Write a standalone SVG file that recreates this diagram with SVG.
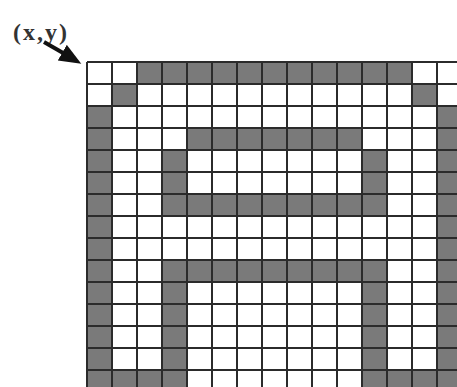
<svg xmlns="http://www.w3.org/2000/svg" width="457" height="387" viewBox="0 0 457 387">
  <style>
    .g { fill: #7a7a7a; }
    .grid { fill: none; stroke: #2b2b2b; stroke-width: 2; }
    .lbl { font-family: "Liberation Serif", "Times New Roman", serif; font-weight: bold; font-size: 24px; fill: #333; }
    .arrow { stroke: #111; stroke-width: 4; fill: none; }
  </style>
  <defs>
    <marker id="head" markerUnits="userSpaceOnUse" markerWidth="24" markerHeight="20" refX="2" refY="9" orient="auto">
      <polygon points="0,0 22,9 0,18" fill="#111"/>
    </marker>
  </defs>
  <rect width="457" height="387" fill="#fff"/>

  <g id="grid">
    <rect x="87" y="62" width="370" height="325" fill="#fff"/>
    <rect class="g" x="137" y="62" width="275" height="22"/>
    <rect class="g" x="112" y="84" width="25" height="22"/>
    <rect class="g" x="412" y="84" width="25" height="22"/>
    <rect class="g" x="87" y="106" width="25" height="281"/>
    <rect class="g" x="437" y="106" width="20" height="281"/>
    <rect class="g" x="187" y="128" width="175" height="22"/>
    <rect class="g" x="162" y="150" width="25" height="44"/>
    <rect class="g" x="362" y="150" width="25" height="44"/>
    <rect class="g" x="162" y="194" width="225" height="22"/>
    <rect class="g" x="162" y="260" width="225" height="22"/>
    <rect class="g" x="162" y="282" width="25" height="105"/>
    <rect class="g" x="362" y="282" width="25" height="105"/>
    <rect class="g" x="112" y="370" width="50" height="17"/>
    <rect class="g" x="387" y="370" width="50" height="17"/>
    <path class="grid" d="M87 62V387M112 62V387M137 62V387M162 62V387M187 62V387M212 62V387M237 62V387M262 62V387M287 62V387M312 62V387M337 62V387M362 62V387M387 62V387M412 62V387M437 62V387
      M87 62H457M87 84H457M87 106H457M87 128H457M87 150H457M87 172H457M87 194H457M87 216H457M87 238H457M87 260H457M87 282H457M87 304H457M87 326H457M87 348H457M87 370H457"/>
  </g>

  <g id="label">
    <text class="lbl" x="13" y="40" textLength="54" lengthAdjust="spacing">(x,y)</text>
  </g>

  <g id="connectors">
    <line class="arrow" x1="44" y1="42" x2="64" y2="53.6" marker-end="url(#head)"/>
  </g>
</svg>
